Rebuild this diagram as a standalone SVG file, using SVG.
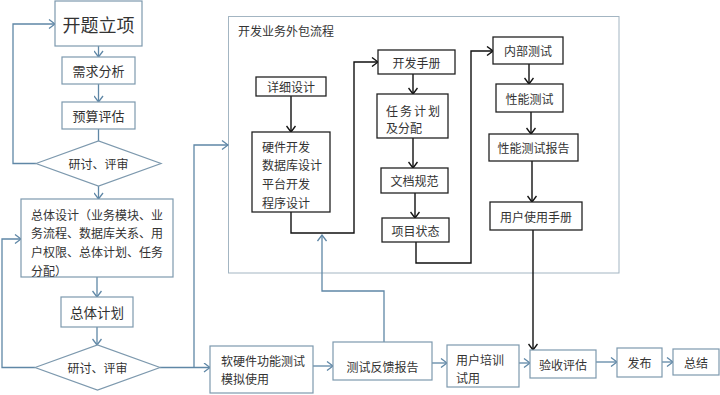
<svg xmlns="http://www.w3.org/2000/svg" width="720" height="395" viewBox="0 0 720 395">
<defs>
<marker id="ab" viewBox="-7 -5 8 10" refX="0" refY="0" markerWidth="8" markerHeight="10" markerUnits="userSpaceOnUse" orient="auto">
<path d="M-6,-4.5 L0,0 L-6,4.5" fill="none" stroke="#5f87a6" stroke-width="1.3"/>
</marker>
<marker id="ak" viewBox="-7 -5 8 10" refX="0" refY="0" markerWidth="8" markerHeight="10" markerUnits="userSpaceOnUse" orient="auto">
<path d="M-6,-4.5 L0,0 L-6,4.5" fill="none" stroke="#111" stroke-width="1.4"/>
</marker>
</defs>
<style>
text{font-family:"Noto Sans CJK SC","Liberation Serif",serif;fill:#333;font-size:12px}
.c{text-anchor:middle;dominant-baseline:central}
.l{dominant-baseline:central}
.bn{fill:#fff;stroke:#7d99ae;stroke-width:1.2}
.kn{fill:#fff;stroke:#222;stroke-width:1.3}
.bl{fill:none;stroke:#5f87a6;stroke-width:1.3}
.kl{fill:none;stroke:#111;stroke-width:1.4}
</style>
<rect width="720" height="395" fill="#fff"/>
<g id="outer">
<rect x="228.5" y="16.5" width="390.5" height="256.5" fill="none" stroke="#a3b5c2" stroke-width="1"/>
<text x="238" y="30" class="l">开发业务外包流程</text>
</g>
<g id="connectors">
<path class="bl" d="M98.5,46V57" marker-end="url(#ab)"/>
<path class="bl" d="M98.5,84V102" marker-end="url(#ab)"/>
<path class="bl" d="M98.5,129V141"/>
<path class="bl" d="M36,163.5H13V24H55" marker-end="url(#ab)"/>
<path class="bl" d="M98.5,186V199" marker-end="url(#ab)"/>
<path class="bl" d="M97,277V297" marker-end="url(#ab)"/>
<path class="bl" d="M97,327V345" marker-end="url(#ab)"/>
<path class="bl" d="M35,367.5H2V239H21" marker-end="url(#ab)"/>
<path class="bl" d="M160,367.5H210" marker-end="url(#ab)"/>
<path class="bl" d="M194,367.5V145H228" marker-end="url(#ab)"/>
<path class="bl" d="M313,366H333" marker-end="url(#ab)"/>
<path class="bl" d="M384,342V291H322V235" marker-end="url(#ab)"/>
<path class="bl" d="M432,363H447" marker-end="url(#ab)"/>
<path class="bl" d="M519,363H530" marker-end="url(#ab)"/>
<path class="bl" d="M596,362H617" marker-end="url(#ab)"/>
<path class="bl" d="M662,362H673" marker-end="url(#ab)"/>
<path class="kl" d="M291,96V132" marker-end="url(#ak)"/>
<path class="kl" d="M291,212V233H354V62H378" marker-end="url(#ak)"/>
<path class="kl" d="M413,74V94" marker-end="url(#ak)"/>
<path class="kl" d="M413,138V168" marker-end="url(#ak)"/>
<path class="kl" d="M415,193V218" marker-end="url(#ak)"/>
<path class="kl" d="M416,242V263H471V51H493" marker-end="url(#ak)"/>
<path class="kl" d="M529,64V84" marker-end="url(#ak)"/>
<path class="kl" d="M531,112V134" marker-end="url(#ak)"/>
<path class="kl" d="M532,161V202" marker-end="url(#ak)"/>
<path class="kl" d="M533,230V350" marker-end="url(#ak)"/>
</g>
<g id="n-kaiti"><rect x="55" y="1" width="87" height="45" class="bn" stroke-width="2"/><text x="98.5" y="24" class="c" style="font-size:18px">开题立项</text></g>
<g id="n-xuqiu"><rect x="62" y="57" width="73" height="27" class="bn"/><text x="98.5" y="70.5" class="c" style="font-size:13px">需求分析</text></g>
<g id="n-yusuan"><rect x="62" y="102" width="73" height="27" class="bn"/><text x="98.5" y="115.5" class="c" style="font-size:13px">预算评估</text></g>
<g id="d-review1"><polygon points="36,163.5 98.5,141 161,163.5 98.5,186" class="bn"/><text x="98.5" y="163.5" class="c">研讨、评审</text></g>
<g id="n-zongti"><rect x="21" y="199" width="152" height="78" class="bn"/>
<text x="31" y="214" class="l">总体设计（业务模块、业</text>
<text x="31" y="232.5" class="l">务流程、数据库关系、用</text>
<text x="31" y="251" class="l">户权限、总体计划、任务</text>
<text x="31" y="270" class="l">分配）</text></g>
<g id="n-jihua"><rect x="61" y="297" width="72" height="30" class="bn"/><text x="97" y="312" class="c" style="font-size:13.5px">总体计划</text></g>
<g id="d-review2"><polygon points="35,367.5 97.5,345 160,367.5 97.5,390" class="bn"/><text x="97.5" y="367.5" class="c">研讨、评审</text></g>
<g id="n-xiangxi"><rect x="256" y="77" width="70" height="19" class="kn"/><text x="291" y="86.5" class="c">详细设计</text></g>
<g id="n-yingjian"><rect x="252" y="132" width="78" height="80" class="kn"/>
<text x="262" y="146" class="l">硬件开发</text>
<text x="262" y="164.5" class="l">数据库设计</text>
<text x="262" y="183" class="l">平台开发</text>
<text x="262" y="202" class="l">程序设计</text></g>
<g id="n-shouce"><rect x="378" y="50" width="77" height="24" class="kn"/><text x="416.5" y="62" class="c">开发手册</text></g>
<g id="n-renwu"><rect x="377" y="94" width="71" height="44" class="kn"/>
<text x="386" y="110" class="l" letter-spacing="2">任务计划</text>
<text x="386" y="127" class="l">及分配</text></g>
<g id="n-wendang"><rect x="381" y="168" width="67" height="25" class="kn"/><text x="414.5" y="180.5" class="c">文档规范</text></g>
<g id="n-xiangmu"><rect x="382" y="218" width="67" height="24" class="kn"/><text x="415.5" y="230" class="c">项目状态</text></g>
<g id="n-neibu"><rect x="493" y="37" width="70" height="27" class="kn"/><text x="528" y="50.5" class="c">内部测试</text></g>
<g id="n-xingneng"><rect x="496" y="84" width="67" height="28" class="kn"/><text x="529.5" y="98" class="c">性能测试</text></g>
<g id="n-baogao"><rect x="489" y="134" width="89" height="27" class="kn"/><text x="533.5" y="147.5" class="c">性能测试报告</text></g>
<g id="n-yonghu"><rect x="490" y="202" width="92" height="28" class="kn"/><text x="536" y="216" class="c">用户使用手册</text></g>
<g id="n-ruanying"><rect x="210" y="346" width="103" height="47" class="bn"/>
<text x="221" y="360" class="l">软硬件功能测试</text>
<text x="221" y="378" class="l">模拟使用</text></g>
<g id="n-fankui"><rect x="333" y="342" width="99" height="38" class="bn"/><text x="382.5" y="366" class="c">测试反馈报告</text></g>
<g id="n-peixun"><rect x="447" y="345" width="72" height="42" class="bn"/>
<text x="456" y="359" class="l">用户培训</text>
<text x="456" y="377" class="l">试用</text></g>
<g id="n-yanshou"><rect x="530" y="350" width="66" height="28" class="bn"/><text x="563" y="364" class="c">验收评估</text></g>
<g id="n-fabu"><rect x="617" y="348" width="45" height="29" class="bn"/><text x="639.5" y="362.5" class="c">发布</text></g>
<g id="n-zongjie"><rect x="673" y="349" width="46" height="26" class="bn"/><text x="696" y="362" class="c">总结</text></g>
</svg>
